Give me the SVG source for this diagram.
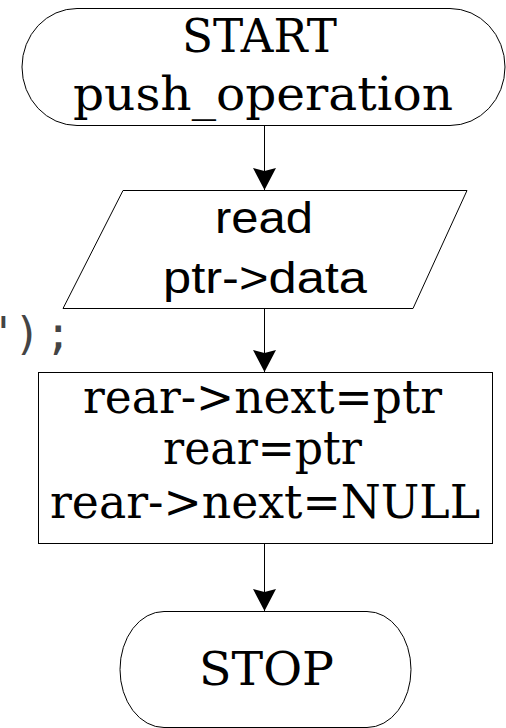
<svg xmlns="http://www.w3.org/2000/svg" width="506" height="728" viewBox="0 0 506 728">
  <style>
    .shape { fill: #ffffff; stroke: #000000; stroke-width: 1; }
    .serif { font-family: "DejaVu Serif", "Liberation Serif", serif; font-size: 46px; fill: #000000; text-anchor: middle; }
    .sans { font-family: "Liberation Sans", Arial, sans-serif; font-size: 44px; fill: #000000; text-anchor: middle; }
    .code { font-family: "DejaVu Sans Mono", "Liberation Mono", monospace; font-size: 44px; fill: #444444; }
    .edge { fill: none; stroke: #000000; stroke-width: 1; marker-end: url(#arrow); }
  </style>
  <defs>
    <marker id="arrow" markerUnits="userSpaceOnUse" markerWidth="24" markerHeight="24" refX="22" refY="11.5" orient="auto">
      <path d="M0,0 L22,11.5 L0,23 L3,11.5 Z" fill="#000000"/>
    </marker>
  </defs>
  <rect width="506" height="728" fill="#ffffff"/>

  <!-- stray code fragment at the left edge -->
  <text class="code" x="-14 14 45" y="349">");</text>

  <g id="connectors">
    <line class="edge" x1="264.5" y1="125.5" x2="264.5" y2="190"/>
    <line class="edge" x1="264.5" y1="308.5" x2="264.5" y2="372"/>
    <line class="edge" x1="264.5" y1="543.5" x2="264.5" y2="611"/>
  </g>

  <g id="start">
    <path class="shape" d="M77,8.5 H450 A55,58.5 0 0 1 450,125.5 H77 A55,58.5 0 0 1 77,8.5 Z"/>
    <text class="serif" x="259.5" y="52" textLength="155" lengthAdjust="spacingAndGlyphs">START</text>
    <text class="serif" x="263" y="110" textLength="380" lengthAdjust="spacingAndGlyphs">push_operation</text>
  </g>

  <g id="read">
    <polygon class="shape" points="123,190.5 467,190.5 413,308.5 63,308.5"/>
    <text class="sans" x="264" y="233" textLength="98" lengthAdjust="spacingAndGlyphs">read</text>
    <text class="sans" x="265" y="293" textLength="204" lengthAdjust="spacingAndGlyphs">ptr-&gt;data</text>
  </g>

  <g id="link">
    <rect class="shape" x="38.5" y="372.5" width="454" height="171"/>
    <text class="serif" x="262.5" y="413" textLength="359" lengthAdjust="spacingAndGlyphs">rear-&gt;next=ptr</text>
    <text class="serif" x="262.5" y="464" textLength="199" lengthAdjust="spacingAndGlyphs">rear=ptr</text>
    <text class="serif" x="265" y="518" textLength="430" lengthAdjust="spacingAndGlyphs">rear-&gt;next=NULL</text>
  </g>

  <g id="stop">
    <path class="shape" d="M164,611.5 H367 A44,58 0 0 1 367,727.5 H164 A44,58 0 0 1 164,611.5 Z"/>
    <text class="serif" x="266.5" y="685" textLength="135" lengthAdjust="spacingAndGlyphs">STOP</text>
  </g>
</svg>
